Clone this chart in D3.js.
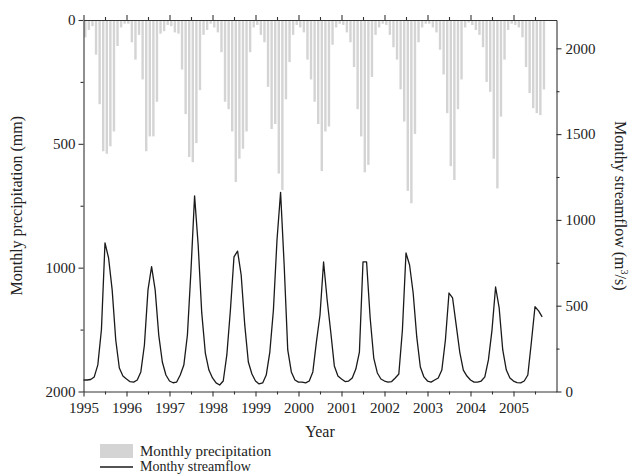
<!DOCTYPE html>
<html>
<head>
<meta charset="utf-8">
<script src="https://cdn.jsdelivr.net/npm/d3@7/dist/d3.min.js"></script>
<style>
  html, body { margin: 0; padding: 0; background: #fff; }
  svg { display: block; }
  text { font-family: "Liberation Serif", "Times New Roman", serif; fill: #222; }
</style>
</head>
<body>
<svg id="chart" width="632" height="476"></svg>
<script>
// ---- Data (monthly, starting January 1995) ----
const startYear = 1995;
const precipitation = [
  70, 40, 25, 140, 340, 530, 540, 510, 450, 105, 30, 15,      // 1995
  15, 90, 160, 60, 240, 530, 470, 470, 330, 55, 45, 20,       // 1996
  25, 50, 55, 200, 380, 553, 574, 497, 283, 60, 40, 15,       // 1997
  30, 50, 130, 330, 360, 450, 654, 560, 520, 450, 130, 30,    // 1998
  20, 60, 90, 270, 440, 420, 620, 687, 320, 170, 60, 20,      // 1999
  30, 50, 160, 240, 330, 420, 610, 450, 430, 100, 30, 15,     // 2000
  20, 50, 90, 190, 360, 470, 615, 585, 230, 60, 30, 15,       // 2001
  20, 60, 110, 160, 280, 410, 690, 740, 460, 90, 30, 15,      // 2002
  15, 30, 50, 120, 220, 376, 590, 646, 360, 240, 30, 10,      // 2003
  20, 40, 60, 110, 250, 290, 560, 680, 390, 160, 40, 15,      // 2004
  20, 30, 70, 190, 295, 356, 376, 384, 280                    // 2005 (Jan-Sep)
];
const streamflow = [
  67, 67, 70, 85, 155, 360, 866, 778, 592, 300, 137, 90,      // 1995
  73, 57, 55, 67, 114, 271, 592, 728, 592, 329, 172, 96,      // 1996
  61, 51, 55, 96, 154, 329, 708, 1140, 854, 458, 224, 125,    // 1997
  79, 50, 38, 61, 213, 475, 785, 818, 679, 388, 172, 102,     // 1998
  61, 44, 50, 96, 230, 475, 883, 1161, 737, 242, 114, 67,     // 1999
  55, 55, 50, 61, 114, 289, 446, 755, 533, 347, 149, 90,      // 2000
  73, 58, 61, 79, 131, 230, 755, 755, 428, 195, 108, 73,      // 2001
  61, 55, 58, 79, 102, 358, 807, 737, 574, 318, 143, 85,      // 2002
  61, 55, 67, 79, 125, 300, 574, 545, 388, 230, 125, 90,      // 2003
  67, 55, 55, 61, 85, 184, 358, 609, 487, 242, 125, 79,       // 2004
  61, 52, 50, 61, 96, 290, 494, 470, 435                      // 2005 (Jan-Sep)
];
const yearTicks = [1995, 1996, 1997, 1998, 1999, 2000, 2001, 2002, 2003, 2004, 2005];
const precipTickValues = [0, 500, 1000, 1500];
const precipTickLabels = ["0", "500", "1000", "2000"];
const flowTickValues = [0, 500, 1000, 1500, 2000];
const flowTickLabels = ["0", "500", "1000", "1500", "2000"];
const legendLabels = ["Monthly precipitation", "Monthy streamflow"];

(function () {
  // ---- Layout ----
  const pL = 83.5, pR = 556.5, pT = 20, pB = 391.5;
  const svg = d3.select("#chart");

  const x = d3.scaleLinear().domain([1995, 2006]).range([pL, pR]);
  const yP = d3.scaleLinear().domain([0, 1500]).range([pT, pB]);
  const yS = d3.scaleLinear().domain([0, 2165]).range([pB, pT]);

  const monthsP = precipitation.map((v, i) => ({ t: startYear + i / 12, v }));
  const monthsS = streamflow.map((v, i) => ({ t: startYear + i / 12, v }));

  // ---- Bars (hanging from top) ----
  const barW = 2.4;
  svg.append("g").selectAll("rect").data(monthsP).join("rect")
    .attr("x", d => x(d.t + 0.5 / 12) - barW / 2)
    .attr("y", yP(0))
    .attr("width", barW)
    .attr("height", d => yP(d.v) - yP(0))
    .attr("fill", "#d4d4d4");

  // ---- Streamflow line ----
  svg.append("path")
    .datum(monthsS)
    .attr("fill", "none")
    .attr("stroke", "#1a1a1a")
    .attr("stroke-width", 1.3)
    .attr("stroke-linejoin", "round")
    .attr("d", d3.line().x(d => x(d.t)).y(d => yS(d.v)));

  // ---- Axes ----
  const axisColor = "#333";
  function style(g) {
    g.selectAll("path.domain").attr("stroke", axisColor).attr("stroke-width", 1.1);
    g.selectAll(".tick line").attr("stroke", axisColor).attr("stroke-width", 1.1);
    g.selectAll(".tick text").attr("font-family", "Liberation Serif, serif").attr("font-size", 15).attr("fill", "#222");
  }
  const halfYears = yearTicks.map(yv => yv + 0.5);

  // bottom
  svg.append("g").attr("transform", `translate(0,${pB})`)
    .call(d3.axisBottom(x).tickValues(halfYears).tickSize(3).tickFormat(""))
    .call(style).call(g => g.select(".domain").remove());
  svg.append("g").attr("transform", `translate(0,${pB})`)
    .call(d3.axisBottom(x).tickValues(yearTicks).tickSize(5).tickSizeOuter(0).tickPadding(6).tickFormat(d3.format("d")))
    .call(style);
  // top
  svg.append("g").attr("transform", `translate(0,${pT})`)
    .call(d3.axisTop(x).tickValues(halfYears).tickSize(3).tickFormat(""))
    .call(style).call(g => g.select(".domain").remove());
  svg.append("g").attr("transform", `translate(0,${pT})`)
    .call(d3.axisTop(x).tickValues(yearTicks).tickSize(5).tickSizeOuter(0).tickFormat(""))
    .call(style);
  // left
  svg.append("g").attr("transform", `translate(${pL},0)`)
    .call(d3.axisLeft(yP).tickValues([250, 750, 1250]).tickSize(3).tickFormat(""))
    .call(style).call(g => g.select(".domain").remove());
  svg.append("g").attr("transform", `translate(${pL},0)`)
    .call(d3.axisLeft(yP).tickValues(precipTickValues).tickSize(5).tickSizeOuter(0).tickPadding(3)
      .tickFormat((d, i) => precipTickLabels[i]))
    .call(style);
  // right
  svg.append("g").attr("transform", `translate(${pR},0)`)
    .call(d3.axisRight(yS).tickValues([250, 750, 1250, 1750]).tickSize(3).tickFormat(""))
    .call(style).call(g => g.select(".domain").remove());
  svg.append("g").attr("transform", `translate(${pR},0)`)
    .call(d3.axisRight(yS).tickValues(flowTickValues).tickSize(5).tickSizeOuter(0).tickPadding(4)
      .tickFormat((d, i) => flowTickLabels[i]))
    .call(style);

  // ---- Titles ----
  svg.append("text").attr("x", (pL + pR) / 2).attr("y", 437)
    .attr("text-anchor", "middle").attr("font-size", 16).text("Year");
  svg.append("text").attr("transform", `translate(22,${(pT + pB) / 2}) rotate(-90)`)
    .attr("text-anchor", "middle").attr("font-size", 16).text("Monthly precipitation (mm)");
  const rt = svg.append("text").attr("transform", `translate(615,${(pT + pB) / 2}) rotate(90)`)
    .attr("text-anchor", "middle").attr("font-size", 16);
  rt.append("tspan").text("Monthy streamflow (m");
  rt.append("tspan").attr("font-size", 10).attr("dy", -6).text("3");
  rt.append("tspan").attr("dy", 6).text("/s)");

  // ---- Legend ----
  const lg = svg.append("g");
  lg.append("rect").attr("x", 100).attr("y", 444).attr("width", 33).attr("height", 14).attr("fill", "#d4d4d4");
  lg.append("text").attr("x", 140).attr("y", 456).attr("font-size", 15).text(legendLabels[0]);
  lg.append("line").attr("x1", 100).attr("x2", 133).attr("y1", 467).attr("y2", 467)
    .attr("stroke", "#1a1a1a").attr("stroke-width", 1.3);
  lg.append("text").attr("x", 140).attr("y", 471).attr("font-size", 14).text(legendLabels[1]);
})();
</script>
</body>
</html>
